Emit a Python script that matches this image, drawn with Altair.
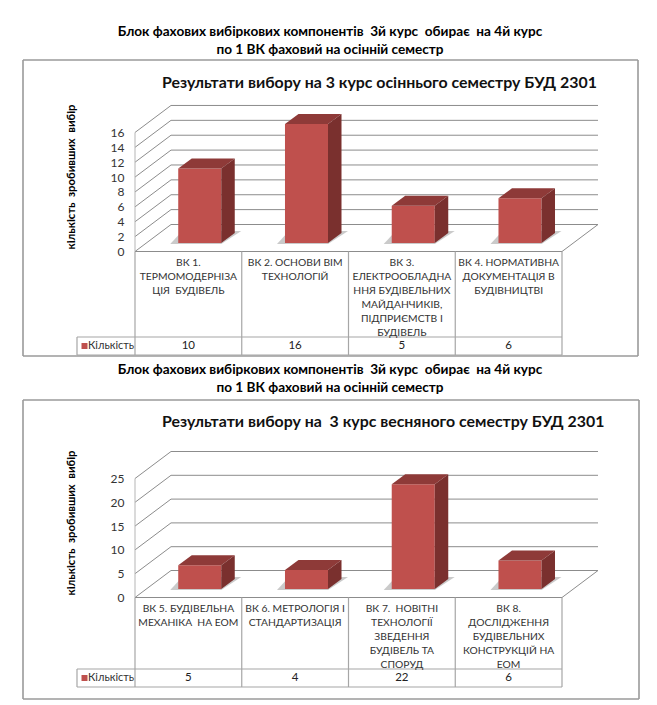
import altair as alt
import pandas as pd

NB = "\u00a0"
HEADER_LINES = [f"Блок фахових вибіркових компонентів {NB}3й курс {NB}обирає {NB}на 4й курс",
                "по 1 ВК фаховий на осінній семестр"]
TITLE_A = "Результати вибору на 3 курс осіннього семестру БУД 2301"
TITLE_B = f"Результати вибору на {NB}3 курс весняного семестру БУД 2301"
YLABEL = f"кількість {NB}зробивших {NB}вибір"
SERIES = "Кількість"
CATS_A = [f"ВК 1.\nТЕРМОМОДЕРНІЗА\nЦІЯ {NB}БУДІВЕЛЬ",
          "ВК 2. ОСНОВИ ВІМ\nТЕХНОЛОГІЙ",
          "ВК 3.\nЕЛЕКТРООБЛАДНА\nННЯ БУДІВЕЛЬНИХ\nМАЙДАНЧИКІВ,\nПІДПРИЄМСТВ І\nБУДІВЕЛЬ",
          "ВК 4. НОРМАТИВНА\nДОКУМЕНТАЦІЯ В\nБУДІВНИЦТВІ"]
VALS_A = [10, 16, 5, 6]
TICKS_A = [0, 2, 4, 6, 8, 10, 12, 14, 16]
CATS_B = ["ВК 5. БУДІВЕЛЬНА\n" + f"МЕХАНІКА {NB}НА ЕОМ",
          "ВК 6. МЕТРОЛОГІЯ І\nСТАНДАРТИЗАЦІЯ",
          f"ВК 7. {NB}НОВІТНІ\nТЕХНОЛОГІЇ\nЗВЕДЕННЯ\nБУДІВЕЛЬ ТА\nСПОРУД",
          "ВК 8.\nДОСЛІДЖЕННЯ\nБУДІВЕЛЬНИХ\nКОНСТРУКЦІЙ НА\nЕОМ"]
VALS_B = [5, 4, 22, 6]
TICKS_B = [0, 5, 10, 15, 20, 25]

FONT = "Lato, 'Noto Sans', sans-serif"
FRONT, TOP, SIDE = "#BF504D", "#8E3A38", "#7A302E"
GRID, TABLE, FRAME = "#8C8C8C", "#A6A6A6", "#9A9A9A"
SLOT = 106.75
X0 = 135.0
PAGE_L, PAGE_R = 8.0, 649.0


def panel(cats, vals, ticks, title, page_top, page_bottom, y0, pu, frame, hdr_y, title_y,
          table_row, ylab_y):
    W, H = PAGE_R - PAGE_L, page_bottom - page_top
    X = lambda p: (p - X0) / SLOT
    Y = lambda p: (y0 - p) / pu
    xs = alt.Scale(domain=[X(PAGE_L), X(PAGE_R)], nice=False, zero=False)
    ys = alt.Scale(domain=[Y(page_bottom), Y(page_top)], nice=False, zero=False)
    y_axis = alt.Axis(values=ticks, title=None, domain=False, ticks=False, grid=False,
                      offset=-(X0 - PAGE_L), labelPadding=11, labelFont=FONT, labelFontSize=12,
                      labelColor="#333333", labelBound=False, labelFlush=False)
    X_ = alt.X("x:Q", scale=xs, axis=None)
    Y_ = alt.Y("y:Q", scale=ys, axis=y_axis)
    top_v = ticks[-1]
    dx, dy = 36.0 / SLOT, 27.0 / pu          # depth of the floor
    bdx, bdy = 13.5 / SLOT, 10.0 / pu        # depth of a bar
    base = 8.5 / pu                          # front of the bar above the floor edge
    n = len(vals)

    # grid, walls, frame and table lines
    rules = []
    def line(x, y, x2, y2, c, w=1.0):
        rules.append(dict(x=x, y=y, x2=x2, y2=y2, c=c, w=w))
    fl, ft, fr, fb = frame
    line(X(fl), Y(ft), X(fr), Y(ft), FRAME, 1.6)
    line(X(fl), Y(fb), X(fr), Y(fb), FRAME, 1.6)
    line(X(fl), Y(ft), X(fl), Y(fb), FRAME, 1.6)
    line(X(fr), Y(ft), X(fr), Y(fb), FRAME, 1.6)
    for t in ticks:
        line(0, t, dx, t + dy, GRID)
        line(dx, t + dy, n + dx, t + dy, GRID)
    line(0, 0, 0, top_v, "#B5B5B5")
    line(0, 0, n, 0, GRID)
    line(n, 0, n + dx, dy, GRID)
    tbl_row, tbl_bot = table_row
    for i in range(n + 1):
        line(i, 0, i, Y(tbl_bot), TABLE, 1.2)
    line(X(77), Y(tbl_row), n, Y(tbl_row), TABLE, 1.2)
    line(X(77), Y(tbl_bot), n, Y(tbl_bot), TABLE, 1.2)
    line(X(77), Y(tbl_row), X(77), Y(tbl_bot), TABLE, 1.2)
    rule_layer = alt.Chart(pd.DataFrame(rules)).mark_rule().encode(
        x=X_, y=Y_, x2="x2:Q", y2="y2:Q",
        color=alt.Color("c:N", scale=None),
        strokeWidth=alt.StrokeWidth("w:Q", scale=None),
    )

    # bars
    faces, fronts = {"top": [], "side": [], "shadow": []}, []
    for i, v in enumerate(vals):
        a = i + 0.405
        b = a + 0.403
        lo, hi = base, base + v
        fronts.append(dict(x=a, x2=b, y=lo, y2=hi))
        for px, y1, y2 in [(a, hi, hi), (a + bdx, hi, hi + bdy), (b, hi, hi + bdy), (b + bdx, hi + bdy, hi + bdy)]:
            faces["top"].append(dict(id=i, x=px, y=y1, y2=y2))
        for px, y1, y2 in [(b, lo, hi), (b + bdx, lo + bdy, hi + bdy)]:
            faces["side"].append(dict(id=i, x=px, y=y1, y2=y2))
        sl = 1.0
        sd = 12.0 / pu
        for px, y1, y2 in [(a - 8 / SLOT, lo - sl / pu, lo - sl / pu), (a + 4 / SLOT, lo - sl / pu, lo + sd),
                           (b, lo - sl / pu, lo + sd), (b + 20 / SLOT, lo + sd, lo + sd)]:
            faces["shadow"].append(dict(id=i, x=px, y=y1, y2=y2))

    def area(rows, fill, op=1.0):
        return alt.Chart(pd.DataFrame(rows)).mark_area(
            interpolate="linear", color=fill, opacity=op).encode(
            x=X_, y=Y_, y2="y2:Q", detail="id:N")

    front_layer = alt.Chart(pd.DataFrame(fronts)).mark_rect(fill=FRONT).encode(
        x=X_, x2="x2:Q", y=Y_, y2="y2:Q")

    def text(rows, **mk):
        return alt.Chart(pd.DataFrame(rows)).mark_text(font=FONT, **mk).encode(
            x=X_, y=Y_, text="t:N")

    hdr = text([dict(x=X(330), y=Y(hdr_y + k * 17.5), t=t) for k, t in enumerate(HEADER_LINES)],
               fontSize=13.6, fontWeight="bold", color="#000000", align="center", baseline="middle")
    ttl = text([dict(x=X(162), y=Y(title_y), t=title)],
               fontSize=15.9, fontWeight="bold", color="#111111", align="left", baseline="middle")
    ylab = text([dict(x=X(72), y=Y(ylab_y), t=YLABEL)],
                fontSize=11.3, fontWeight="bold", color="#000000", angle=270, align="center", baseline="middle")
    cat_t = text([dict(x=i + 0.5, y=-6.5 / pu, t=c) for i, c in enumerate(cats)],
                 fontSize=10.3, color="#333333", align="center", baseline="top", lineBreak="\n", lineHeight=14)
    row_y = Y((tbl_row + tbl_bot) / 2)
    val_t = text([dict(x=i + 0.5, y=row_y, t=str(v)) for i, v in enumerate(vals)],
                 fontSize=11.5, color="#222222", align="center", baseline="middle")
    leg_t = text([dict(x=X(88), y=row_y, t=SERIES)],
                 fontSize=11, color="#333333", align="left", baseline="middle")
    leg_k = alt.Chart(pd.DataFrame([dict(x=X(81.5), x2=X(87.5), y=row_y - 3.0 / pu, y2=row_y + 3.0 / pu)])).mark_rect(fill=FRONT).encode(
        x=X_, x2="x2:Q", y=Y_, y2="y2:Q")

    return alt.layer(rule_layer, area(faces["shadow"], "#8A8A8A", 0.45), front_layer,
                     area(faces["top"], TOP), area(faces["side"], SIDE),
                     hdr, ttl, ylab, cat_t, val_t, leg_t, leg_k).properties(width=W, height=H)


a = panel(CATS_A, VALS_A, TICKS_A, TITLE_A, 8, 360, 251.5, 7.44, (23, 60, 638, 356), 32, 83, (337, 355), 177)
b = panel(CATS_B, VALS_B, TICKS_B, TITLE_B, 360, 699, 597.5, 4.76, (23, 400, 639, 699), 370, 422, (669, 687), 523)
chart = alt.vconcat(a, b, spacing=0).properties(padding=0).configure_view(stroke=None).resolve_scale(x="independent", y="independent")
chart.save("out.html", embed_options={"renderer": "svg", "actions": False})
